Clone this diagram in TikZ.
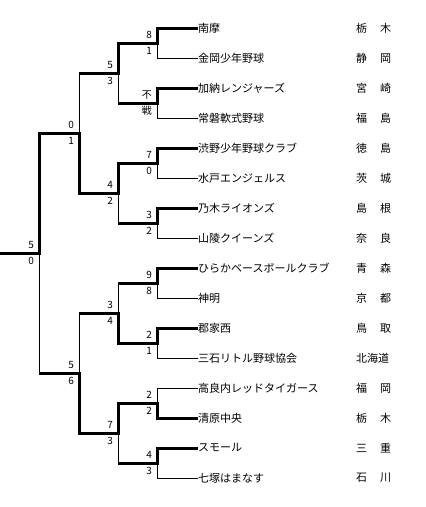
\documentclass[tikz,border=0pt]{standalone}
\usepackage{fontspec}
\setmainfont{Noto Sans CJK JP}
\usepackage{tikz}

\newcommand{\zweiken}[2]{\makebox[35pt]{#1\hfill#2}}

\begin{document}
\begin{tikzpicture}[x=1pt, y=-1pt,
				win/.style={line width=3pt},   %Siegerweg
				lose/.style={line width=1pt},
				team/.style={anchor=west, inner sep=0pt, font=\fontsize{11}{13}\selectfont},
				pref/.style={anchor=west, inner sep=0pt, font=\fontsize{11}{13}\selectfont},
				scoreup/.style={anchor=east, inner sep=0pt, xshift=-5pt, yshift=8pt, font=\fontsize{10}{12}\selectfont},
				scoredown/.style={anchor=east, inner sep=0pt, xshift=-5pt, yshift=-8pt, font=\fontsize{10}{12}\selectfont}]
				\useasboundingbox (0,0) rectangle (426,507);
				% Mannschaften setzen
				\foreach \team/\pref [count=\i] in {南摩/{\zweiken{栃}{木}}, 金岡少年野球/{\zweiken{静}{岡}},
					加納レンジャーズ/{\zweiken{宮}{崎}}, 常磐軟式野球/{\zweiken{福}{島}},
					渋野少年野球クラブ/{\zweiken{徳}{島}}, 水戸エンジェルス/{\zweiken{茨}{城}},
					乃木ライオンズ/{\zweiken{島}{根}}, 山陵クイーンズ/{\zweiken{奈}{良}},
					ひらかベースボールクラブ/{\zweiken{青}{森}}, 神明/{\zweiken{京}{都}},
					郡家西/{\zweiken{鳥}{取}}, 三石リトル野球協会/{北海道},
					高良内レッドタイガース/{\zweiken{福}{岡}}, 清原中央/{\zweiken{栃}{木}},
					スモール/{\zweiken{三}{重}}, 七塚はまなす/{\zweiken{石}{川}}}
					\node[team] (t\i) at (198,{28+30*(\i-1)}) {\team} node[pref] (p\i) at (356,{28+30*(\i-1)}) {\pref};
				% Spielpunkte
				\foreach \j in {1,...,8} \coordinate (a\j) at (157,{43+60*(\j-1)});
				\foreach \j in {1,...,4} \coordinate (b\j) at (118,{73+120*(\j-1)});
				\coordinate (c1) at (79,133);
				\coordinate (c2) at (79,373);
				\coordinate (d) at (39,253);
				\coordinate (f) at (0,253);
				% 1. Runde
				\foreach \j/\p/\w/\l in {1/b1/1/2, 2/b1/3/4, 3/b2/5/6, 4/b2/7/8, 5/b3/9/10, 6/b3/11/12, 7/b4/14/13, 8/b4/15/16} {
					\draw[win] (\p |- a\j) -- (a\j) |- (t\w.west);
					\draw[lose] (a\j) |- (t\l.west);
				}
				% 2. Runde
				\foreach \k/\p/\w/\l in {1/c1/a1/a2, 2/c1/a3/a4, 3/c2/a6/a5, 4/c2/a7/a8} {
					\draw[win] (\p |- b\k) -- (b\k) |- (\w);
					\draw[lose] (b\k) -- (b\k |- \l);
				}
				% Halbfinale
				\foreach \k/\w/\l in {1/b2/b1, 2/b4/b3} {
					\draw[win] (d |- c\k) -- (c\k) |- (\w);
					\draw[lose] (c\k) -- (c\k |- \l);
				}
				% Finale
				\draw[win] (f) -- (d) |- (c1);
				\draw[lose] (d) -- (d |- c2);
				% Ergebnisse
				\foreach \s/\o/\u in {a1/8/1, a2/不/戦, a3/7/0, a4/3/2, a5/9/8, a6/2/1, a7/2/2, a8/4/3,
					b1/5/3, b2/4/2, b3/3/4, b4/7/3, c1/0/1, c2/5/6, d/5/0} {
					\node[scoreup] (o\s) at (\s) {\o};
					\node[scoredown] (u\s) at (\s) {\u};
				}
			\end{tikzpicture}
\end{document}
